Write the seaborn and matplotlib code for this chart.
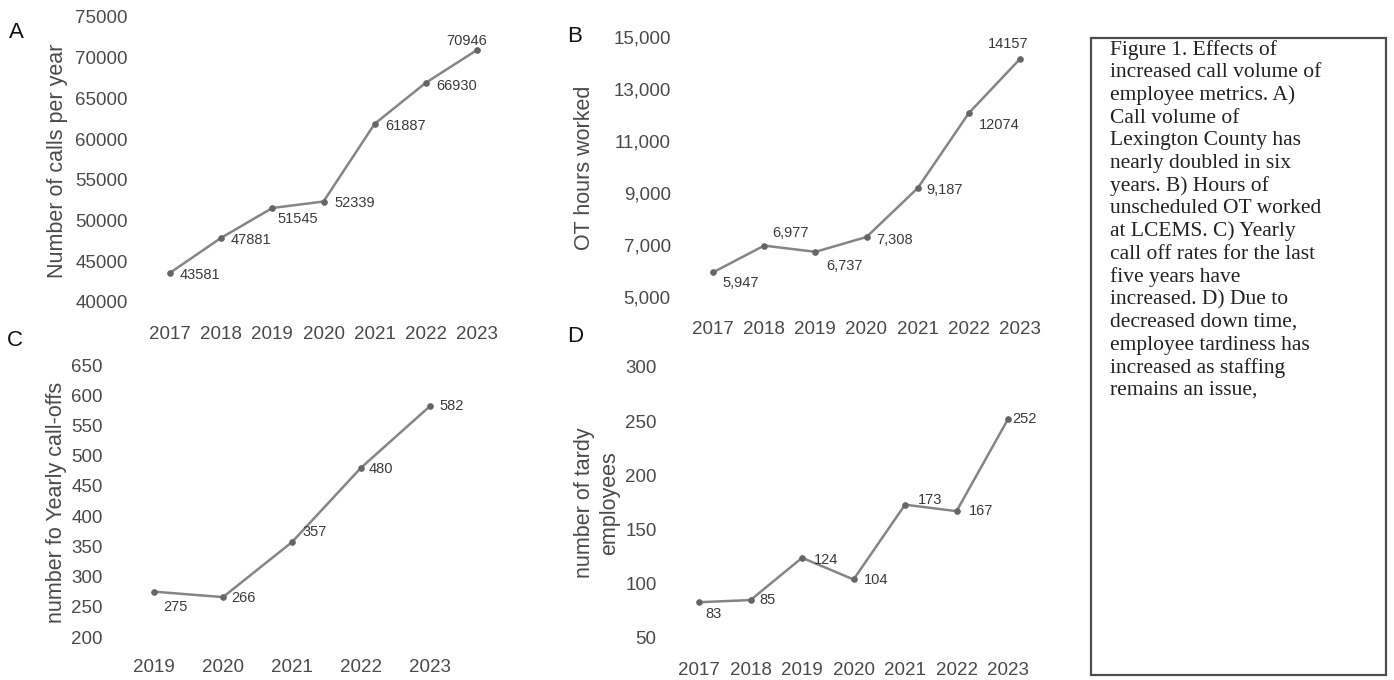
import matplotlib
matplotlib.use("Agg")
import matplotlib.pyplot as plt
import seaborn as sns
import pandas as pd

sns.set_theme(style="white")
plt.rcParams["font.family"] = ["Liberation Sans", "DejaVu Sans"]

# ---- data ----
years_a = ["2017", "2018", "2019", "2020", "2021", "2022", "2023"]
calls_per_year = [43581, 47881, 51545, 52339, 61887, 66930, 70946]

years_b = ["2017", "2018", "2019", "2020", "2021", "2022", "2023"]
ot_hours = [5947, 6977, 6737, 7308, 9187, 12074, 14157]
ot_hour_labels = ["5,947", "6,977", "6,737", "7,308", "9,187", "12074", "14157"]

years_c = ["2019", "2020", "2021", "2022", "2023"]
call_offs = [275, 266, 357, 480, 582]

years_d = ["2017", "2018", "2019", "2020", "2021", "2022", "2023"]
tardy = [83, 85, 124, 104, 173, 167, 252]

ticks_a = [40000, 45000, 50000, 55000, 60000, 65000, 70000, 75000]
ticks_b = [5000, 7000, 9000, 11000, 13000, 15000]
tick_labels_b = ["5,000", "7,000", "9,000", "11,000", "13,000", "15,000"]
ticks_c = [200, 250, 300, 350, 400, 450, 500, 550, 600, 650]
ticks_d = [50, 100, 150, 200, 250, 300]

caption_lines = [
    "Figure 1. Effects of",
    "increased call volume of",
    "employee metrics. A)",
    "Call volume of",
    "Lexington County has",
    "nearly doubled in six",
    "years. B) Hours of",
    "unscheduled OT worked",
    "at LCEMS. C) Yearly",
    "call off rates for the last",
    "five years have",
    "increased. D) Due to",
    "decreased down time,",
    "employee tardiness has",
    "increased as staffing",
    "remains an issue,",
]

# ---- styling ----
W, H = 1394, 680
LINE = "#858585"
MARK = "#666666"
TICK = "#4a4a4a"
LABEL_C = "#3a3a3a"
FS_TICK = 13.5
FS_TITLE = 15.5
FS_VAL = 10.5

fig = plt.figure(figsize=(W / 100, H / 100), dpi=100)


def px_axes(left, right, top, bottom):
    """Axes from pixel edges (origin top-left)."""
    return fig.add_axes([left / W, 1 - bottom / H, (right - left) / W, (bottom - top) / H])


def panel(ax, cats, vals, labels, offsets, ylim, yticks, yticklabels, xpad):
    df = pd.DataFrame({"year": cats, "value": vals})
    sns.lineplot(data=df, x="year", y="value", ax=ax, color=LINE, linewidth=1.8,
                 marker="o", markersize=4, markerfacecolor=MARK, markeredgecolor=MARK,
                 sort=False)
    ax.set_xlim(-0.5, len(cats) - 0.5)
    ax.set_ylim(*ylim)
    ax.set_yticks(yticks)
    ax.set_yticklabels(yticklabels)
    ax.set_xlabel("")
    ax.set_ylabel("")
    for s in ax.spines.values():
        s.set_visible(False)
    ax.tick_params(axis="y", length=0, pad=12, labelsize=FS_TICK, labelcolor=TICK)
    ax.tick_params(axis="x", length=0, pad=xpad, labelsize=FS_TICK, labelcolor=TICK)
    ax.patch.set_alpha(0)
    for i, (v, lab, (dx, dy, ha)) in enumerate(zip(vals, labels, offsets)):
        ax.annotate(lab, (i, v), xytext=(dx, -dy), textcoords="offset pixels",
                    ha=ha, va="center", fontsize=FS_VAL, color=LABEL_C)


L, C = "left", "center"

# A) calls per year
ax_a = px_axes(144.4, 502.6, 17, 302)
panel(ax_a, years_a, calls_per_year, [str(v) for v in calls_per_year],
      [(10, 2, L), (9, 2, L), (5, 11, L), (11, 1, L), (11, 2, L), (10, 3, L), (-10, -9, C)],
      (40000, 75000), ticks_a, [str(t) for t in ticks_a], 17)

# B) OT hours
ax_b = px_axes(687.4, 1045.6, 37, 297)
panel(ax_b, years_b, ot_hours, ot_hour_labels,
      [(9, 11, L), (8, -13, L), (11, 14, L), (10, 3, L), (9, 2, L), (10, 12, L), (-12, -15, C)],
      (5000, 15000), ticks_b, tick_labels_b, 17)

# C) call-offs
ax_c = px_axes(119.5, 464.5, 365, 637)
panel(ax_c, years_c, call_offs, [str(v) for v in call_offs],
      [(9, 15, L), (8, 1, L), (10, -10, L), (8, 1, L), (9, 0, L)],
      (200, 650), ticks_c, [str(t) for t in ticks_c], 16)

# D) tardy employees
ax_d = px_axes(673.3, 1033.8, 367, 638)
panel(ax_d, years_d, tardy, [str(v) for v in tardy],
      [(6, 12, L), (9, 0, L), (12, 2, L), (10, 1, L), (13, -5, L), (12, 0, L), (4, 0, L)],
      (50, 300), ticks_d, [str(t) for t in ticks_d], 17)

# axis titles
def ftext(x, y, s, **kw):
    fig.text(x / W, 1 - y / H, s, **kw)

ytitle = dict(rotation=90, ha="center", va="center", fontsize=FS_TITLE, color=TICK)
ftext(58, 161, "Number of calls per year", **ytitle)
ftext(585, 168, "OT hours worked", **ytitle)
ftext(57, 502, "number fo Yearly call-offs", **ytitle)
ftext(597, 503, "number of tardy\nemployees", linespacing=1.25, **ytitle)

# panel letters
letter = dict(ha="center", va="center", fontsize=16, color="#111111")
ftext(16, 32, "A", **letter)
ftext(575, 37, "B", **letter)
ftext(15, 340, "C", **letter)
ftext(575, 337, "D", **letter)

# caption box
box = plt.Rectangle((1091 / W, 1 - 675 / H), (1386 - 1091) / W, (675 - 38) / H,
                    transform=fig.transFigure, fill=False, edgecolor="#4d4d4d", linewidth=1.6)
fig.add_artist(box)
for k, line in enumerate(caption_lines):
    ftext(1110, 50 + k * 22.7, line, ha="left", va="center", fontsize=15.5,
          color="#222222", family=["Liberation Serif", "DejaVu Serif"])

fig.savefig("out.png", dpi=100, facecolor="white")
